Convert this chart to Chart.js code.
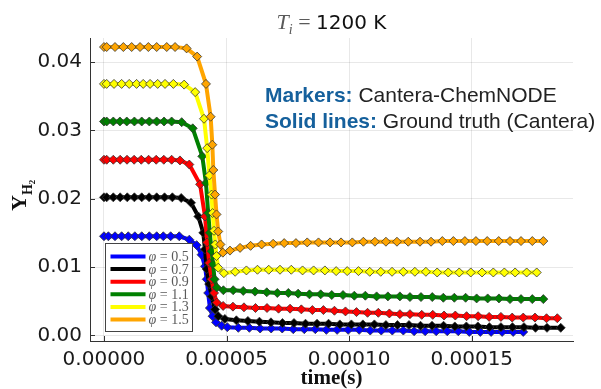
<!DOCTYPE html>
<html>
<head>
<meta charset="utf-8">
<script src="https://cdn.jsdelivr.net/npm/chart.js@4.4.1/dist/chart.umd.min.js"></script>
<style>
  html, body { margin: 0; padding: 0; background: #fff; }
  canvas { display: block; }
</style>
</head>
<body>
<canvas id="chart" width="601" height="389"></canvas>
<script>
// time in microseconds, mass fraction of H2
const phiLabels = ['0.5', '0.7', '0.9', '1.1', '1.3', '1.5'];
const phiColors = ['#0000ff', '#000000', '#ff0000', '#008000', '#ffff00', '#ffa500'];

const xTickValues = [0, 50, 100, 150];
const xTickLabels = ['0.00000', '0.00005', '0.00010', '0.00015'];
const yTickValues = [0, 0.01, 0.02, 0.03, 0.04];
const yTickLabels = ['0.00', '0.01', '0.02', '0.03', '0.04'];

const tPhi05 = [0, 1.8, 4.5, 7.2, 9.9, 12.6, 15.4, 18.5, 21.5, 24.2, 27.2, 30.7,
  34.8, 37.8, 39.8, 41.2, 41.9, 42.5, 43.2, 44.3, 45.7, 48.0, 50.3,
  54.8, 59.3, 63.7, 68.2, 72.7, 77.2, 81.7, 86.2, 90.7, 95.1, 99.6, 104.1, 108.6,
  113.1, 117.6, 122.1, 126.5, 131.0, 135.5, 140.0, 144.5, 149.0, 153.5, 157.9,
  162.4, 166.9, 171.0];
const yPhi05 = [0.0145, 0.0145, 0.0145, 0.0145, 0.0145, 0.0145, 0.0145, 0.0145, 0.0145, 0.0145, 0.0145, 0.0145,
  0.0140, 0.0132, 0.0118, 0.0101, 0.0082, 0.0062, 0.0040, 0.0028, 0.0019, 0.0014, 0.0012,
  0.0011, 0.0011, 0.0010, 0.0010, 0.0010, 0.0009, 0.0009, 0.0009, 0.0008, 0.0008, 0.0008, 0.0008, 0.0007,
  0.0007, 0.0007, 0.0007, 0.0006, 0.0006, 0.0006, 0.0006, 0.0006, 0.0005, 0.0005, 0.0005,
  0.0005, 0.0005, 0.0005];

const tPhi07 = [0, 1.1, 3.8, 6.6, 9.5, 12.4, 15.4, 18.4, 21.5, 24.7, 27.9, 31.5,
  35.5, 38.5, 40.5, 41.2, 41.9, 42.9, 43.9, 45.3, 46.6,
  49.3, 54.0, 58.7, 63.4, 68.1, 72.8, 77.5, 82.2, 86.9, 91.6, 96.2, 100.9, 105.6, 110.3,
  115.0, 119.7, 124.4, 129.1, 133.8, 138.5, 143.1, 147.8, 152.5, 157.2, 161.9, 166.6,
  171.3, 176.0, 180.7, 186.3];
const yPhi07 = [0.0202, 0.0202, 0.0202, 0.0202, 0.0202, 0.0202, 0.0202, 0.0202, 0.0202, 0.0202, 0.0202, 0.0201,
  0.0194, 0.0174, 0.0150, 0.0126, 0.0097, 0.0075, 0.0057, 0.0038, 0.0028,
  0.0024, 0.0022, 0.0021, 0.0020, 0.0019, 0.0018, 0.0018, 0.0017, 0.0017, 0.0017, 0.0016, 0.0016, 0.0016, 0.0016,
  0.0015, 0.0015, 0.0015, 0.0014, 0.0014, 0.0014, 0.0013, 0.0013, 0.0013, 0.0012, 0.0012, 0.0012,
  0.0012, 0.0011, 0.0011, 0.0011];

const tPhi09 = [0, 1.1, 3.8, 6.6, 9.4, 12.3, 15.2, 18.2, 21.3, 24.4, 27.6, 31.0,
  34.8, 39.2, 41.2, 42.1, 42.9, 43.9, 44.9, 46.0,
  48.6, 52.6, 57.1, 61.8, 66.5, 71.2, 75.9, 80.5,
  85.0, 89.5, 94.0, 98.5, 103.0, 107.5, 111.9, 116.4, 120.7, 124.8, 129.6, 134.1,
  138.7, 143.3, 147.9, 152.6, 157.1, 161.9, 166.5, 171.0, 175.8, 180.5, 184.9];
const yPhi09 = [0.0257, 0.0257, 0.0257, 0.0257, 0.0257, 0.0257, 0.0257, 0.0257, 0.0257, 0.0257, 0.0257, 0.0256,
  0.0250, 0.0221, 0.0174, 0.0136, 0.0106, 0.0082, 0.0062, 0.0048,
  0.0043, 0.0042, 0.0041, 0.0040, 0.0040, 0.0039, 0.0039, 0.0038,
  0.0037, 0.0037, 0.0036, 0.0035, 0.0034, 0.0033, 0.0033, 0.0032, 0.0031, 0.0031, 0.0030, 0.0030,
  0.0029, 0.0029, 0.0028, 0.0028, 0.0027, 0.0027, 0.0026, 0.0026, 0.0026, 0.0025, 0.0025];

const tPhi11 = [0, 1.1, 3.8, 6.5, 9.3, 12.4, 15.4, 18.5, 21.5, 24.5, 27.6,
  31.7, 36.2, 40.1, 41.6, 42.5, 43.2, 43.9, 44.5, 45.1, 46.0,
  48.7, 52.7, 56.8, 61.6, 66.4, 70.7, 75.2, 79.2,
  83.8, 88.4, 92.9, 97.5, 102.1, 106.6, 111.2, 115.8, 120.7, 124.8, 129.3,
  133.9, 138.4, 142.9, 147.5, 152.0, 156.5, 161.1, 165.6, 170.1, 174.7, 179.2];
const yPhi11 = [0.0313, 0.0313, 0.0313, 0.0313, 0.0313, 0.0313, 0.0313, 0.0313, 0.0313, 0.0313, 0.0313,
  0.0312, 0.0303, 0.0262, 0.0223, 0.0179, 0.0150, 0.0123, 0.0104, 0.0082, 0.0070,
  0.0066, 0.0066, 0.0065, 0.0064, 0.0063, 0.0062, 0.0062, 0.0061,
  0.0060, 0.0060, 0.0059, 0.0059, 0.0058, 0.0058, 0.0057, 0.0057, 0.0057, 0.0056, 0.0056,
  0.0056, 0.0055, 0.0055, 0.0055, 0.0054, 0.0054, 0.0054, 0.0053, 0.0053, 0.0053, 0.0053];

const tPhi13 = [0, 1.1, 4.1, 7.2, 10.3, 13.3, 16.0, 18.8, 21.9, 24.9, 28.3,
  32.7, 37.2, 40.8, 42.1, 43.0, 43.9, 44.3, 44.9, 45.4, 45.9, 46.6,
  48.9, 53.5, 58.1, 62.6, 67.2, 71.8, 76.4, 81.0, 85.5, 90.1, 94.7, 99.2, 103.8, 108.4,
  112.9, 117.5, 122.1, 126.8, 131.3, 135.9, 140.4, 144.9, 149.6, 154.2, 158.8, 163.3,
  167.7, 172.4, 176.5];
const yPhi13 = [0.0368, 0.0368, 0.0368, 0.0368, 0.0368, 0.0368, 0.0368, 0.0368, 0.0368, 0.0368, 0.0368,
  0.0367, 0.0356, 0.0317, 0.0274, 0.0234, 0.0206, 0.0179, 0.0153, 0.0133, 0.0116, 0.0099,
  0.0091, 0.0093, 0.0095, 0.0096, 0.0096, 0.0096, 0.0096, 0.0095, 0.0095, 0.0095, 0.0094, 0.0094, 0.0094, 0.0093,
  0.0093, 0.0093, 0.0093, 0.0093, 0.0093, 0.0092, 0.0092, 0.0092, 0.0092, 0.0092, 0.0092, 0.0092,
  0.0092, 0.0092, 0.0092];

const tPhi15 = [0, 1.1, 4.5, 7.9, 11.3, 14.7, 18.1, 21.5, 25.6, 29.0,
  33.7, 38.0, 41.6, 43.5, 44.2, 44.6, 45.3, 45.9, 46.6, 47.5, 48.5,
  51.4, 55.5, 59.8, 64.3, 69.0, 73.5, 78.3, 82.9, 87.5, 92.2, 96.7, 101.3, 105.8, 110.5,
  115.0, 119.5, 124.1, 128.9, 133.4, 138.0, 142.5, 147.2, 151.7, 156.3, 161.0, 165.6,
  170.1, 174.7, 179.2];
const yPhi15 = [0.0422, 0.0422, 0.0422, 0.0422, 0.0422, 0.0422, 0.0422, 0.0422, 0.0422, 0.0422,
  0.0420, 0.0408, 0.0368, 0.0320, 0.0279, 0.0242, 0.0206, 0.0177, 0.0152, 0.0133, 0.0121,
  0.0124, 0.0128, 0.0131, 0.0133, 0.0134, 0.0135, 0.0135, 0.0136, 0.0136, 0.0136, 0.0136, 0.0136, 0.0137, 0.0137,
  0.0137, 0.0137, 0.0137, 0.0137, 0.0137, 0.0138, 0.0138, 0.0138, 0.0138, 0.0138, 0.0138, 0.0138,
  0.0138, 0.0138, 0.0138];

const seriesT = [tPhi05, tPhi07, tPhi09, tPhi11, tPhi13, tPhi15];
const seriesY = [yPhi05, yPhi07, yPhi09, yPhi11, yPhi13, yPhi15];

const TICK_FONT = 'DejaVu Sans';
const MATH_GREY = '#5a5a5a';

// one solid line (ground truth) and one marker set (ChemNODE) per phi,
// later phi drawn on top
const datasets = [];
seriesT.forEach((ts, k) => {
  const pts = ts.map((t, i) => ({ x: t, y: seriesY[k][i] }));
  datasets.push({
    label: 'Cantera phi=' + phiLabels[k],
    data: pts,
    borderColor: phiColors[k],
    borderWidth: 4,
    borderJoinStyle: 'round',
    borderCapStyle: 'round',
    pointRadius: 0,
    tension: 0,
    order: 100 - 2 * k
  });
  datasets.push({
    label: 'ChemNODE phi=' + phiLabels[k],
    data: pts,
    showLine: false,
    pointStyle: 'rectRot',
    pointRadius: 4.5,
    pointBackgroundColor: phiColors[k],
    pointBorderColor: '#333',
    pointBorderWidth: 0.8,
    order: 99 - 2 * k
  });
});

function drawRuns(ctx, runs, x, baseline) {
  let cx = x;
  runs.forEach(r => {
    ctx.font = r.font;
    ctx.fillStyle = r.color;
    ctx.fillText(r.text, cx, baseline + (r.dy || 0));
    cx += ctx.measureText(r.text).width;
  });
  return cx;
}

function runsWidth(ctx, runs) {
  let w = 0;
  runs.forEach(r => { ctx.font = r.font; w += ctx.measureText(r.text).width; });
  return w;
}

const decorations = {
  id: 'decorations',
  beforeDraw(chart) {
    const ctx = chart.ctx;
    ctx.save();
    ctx.fillStyle = '#fff';
    ctx.fillRect(0, 0, chart.width, chart.height);
    ctx.restore();
  },
  afterDraw(chart) {
    const ctx = chart.ctx;
    const area = chart.chartArea;
    const xs = chart.scales.x, ys = chart.scales.y;
    ctx.save();
    ctx.textBaseline = 'alphabetic';
    ctx.textAlign = 'left';

    // inward tick marks
    ctx.strokeStyle = '#333';
    ctx.lineWidth = 1;
    ctx.beginPath();
    xTickValues.forEach(v => {
      const px = Math.round(xs.getPixelForValue(v)) + 0.5;
      ctx.moveTo(px, area.bottom);
      ctx.lineTo(px, area.bottom - 5);
    });
    yTickValues.forEach(v => {
      const py = Math.round(ys.getPixelForValue(v)) + 0.5;
      ctx.moveTo(area.left, py);
      ctx.lineTo(area.left + 5, py);
    });
    ctx.stroke();

    // title
    const title = [
      { text: 'T', font: 'italic 22px "Liberation Serif"', color: MATH_GREY },
      { text: 'i', font: 'italic 14px "Liberation Serif"', color: MATH_GREY, dy: 5 },
      { text: ' = ', font: '22px "Liberation Serif"', color: MATH_GREY },
      { text: '1200 K', font: '20px "' + TICK_FONT + '"', color: '#111' }
    ];
    const cxTitle = (area.left + area.right) / 2;
    drawRuns(ctx, title, cxTitle - runsWidth(ctx, title) / 2, 29);

    // x axis title
    ctx.font = 'bold 21px "Liberation Serif"';
    ctx.fillStyle = '#111';
    ctx.textAlign = 'center';
    ctx.fillText('time(s)', cxTitle, 384);
    ctx.textAlign = 'left';

    // y axis title Y_{H2}
    ctx.save();
    ctx.translate(26, 211);
    ctx.rotate(-Math.PI / 2);
    drawRuns(ctx, [
      { text: 'Y', font: 'bold 22px "Liberation Serif"', color: '#111' },
      { text: 'H', font: 'bold 14px "Liberation Serif"', color: '#111', dy: 6 },
      { text: '2', font: 'bold 9px "Liberation Serif"', color: '#111', dy: 9 }
    ], 0, 0);
    ctx.restore();

    // annotation
    const BLUE = '#15609c';
    drawRuns(ctx, [
      { text: 'Markers:', font: 'bold 21px "Liberation Sans"', color: BLUE },
      { text: ' Cantera-ChemNODE', font: '21px "Liberation Sans"', color: '#222' }
    ], 265, 102);
    drawRuns(ctx, [
      { text: 'Solid lines:', font: 'bold 21px "Liberation Sans"', color: BLUE },
      { text: ' Ground truth (Cantera)', font: '21px "Liberation Sans"', color: '#222' }
    ], 265, 128);

    // legend box
    const lx = 105.5, ly = 243.5, lw = 87, lh = 88;
    ctx.fillStyle = '#fff';
    ctx.fillRect(lx, ly, lw, lh);
    ctx.strokeStyle = '#444';
    ctx.lineWidth = 1;
    ctx.strokeRect(lx, ly, lw, lh);
    phiLabels.forEach((p, k) => {
      const ry = ly + 13 + k * 12.6;
      ctx.strokeStyle = phiColors[k];
      ctx.lineWidth = 4;
      ctx.beginPath();
      ctx.moveTo(lx + 5, ry);
      ctx.lineTo(lx + 40, ry);
      ctx.stroke();
      drawRuns(ctx, [
        { text: 'φ', font: 'italic 14px "Liberation Serif"', color: MATH_GREY },
        { text: ' = ' + p, font: '14px "Liberation Serif"', color: MATH_GREY }
      ], lx + 43, ry + 4.5);
    });

    ctx.restore();
  }
};

new Chart(document.getElementById('chart'), {
  type: 'line',
  data: { datasets },
  plugins: [decorations],
  options: {
    responsive: false,
    animation: false,
    layout: { padding: { top: 38, right: 28, left: 0, bottom: 0 } },
    plugins: { legend: { display: false }, tooltip: { enabled: false }, title: { display: false } },
    scales: {
      x: {
        type: 'linear',
        min: -5.7,
        max: 191.3,
        afterBuildTicks: s => { s.ticks = xTickValues.map(v => ({ value: v })); },
        afterFit: s => { s.height = 48; },
        grid: { color: 'rgba(0,0,0,0.09)', drawTicks: false },
        border: { color: '#333', width: 1 },
        ticks: {
          autoSkip: false, maxRotation: 0, padding: 7, color: '#1a1a1a',
          font: { family: TICK_FONT, size: 20 },
          callback: v => xTickLabels[xTickValues.indexOf(v)]
        }
      },
      y: {
        type: 'linear',
        min: -0.00083,
        max: 0.04352,
        afterBuildTicks: s => { s.ticks = yTickValues.map(v => ({ value: v })); },
        afterFit: s => { s.width = 90; },
        grid: { color: 'rgba(0,0,0,0.09)', drawTicks: false },
        border: { color: '#333', width: 1 },
        ticks: {
          autoSkip: false, padding: 8, color: '#1a1a1a',
          font: { family: TICK_FONT, size: 20 },
          callback: v => yTickLabels[yTickValues.indexOf(v)]
        }
      }
    }
  }
});
</script>
</body>
</html>
